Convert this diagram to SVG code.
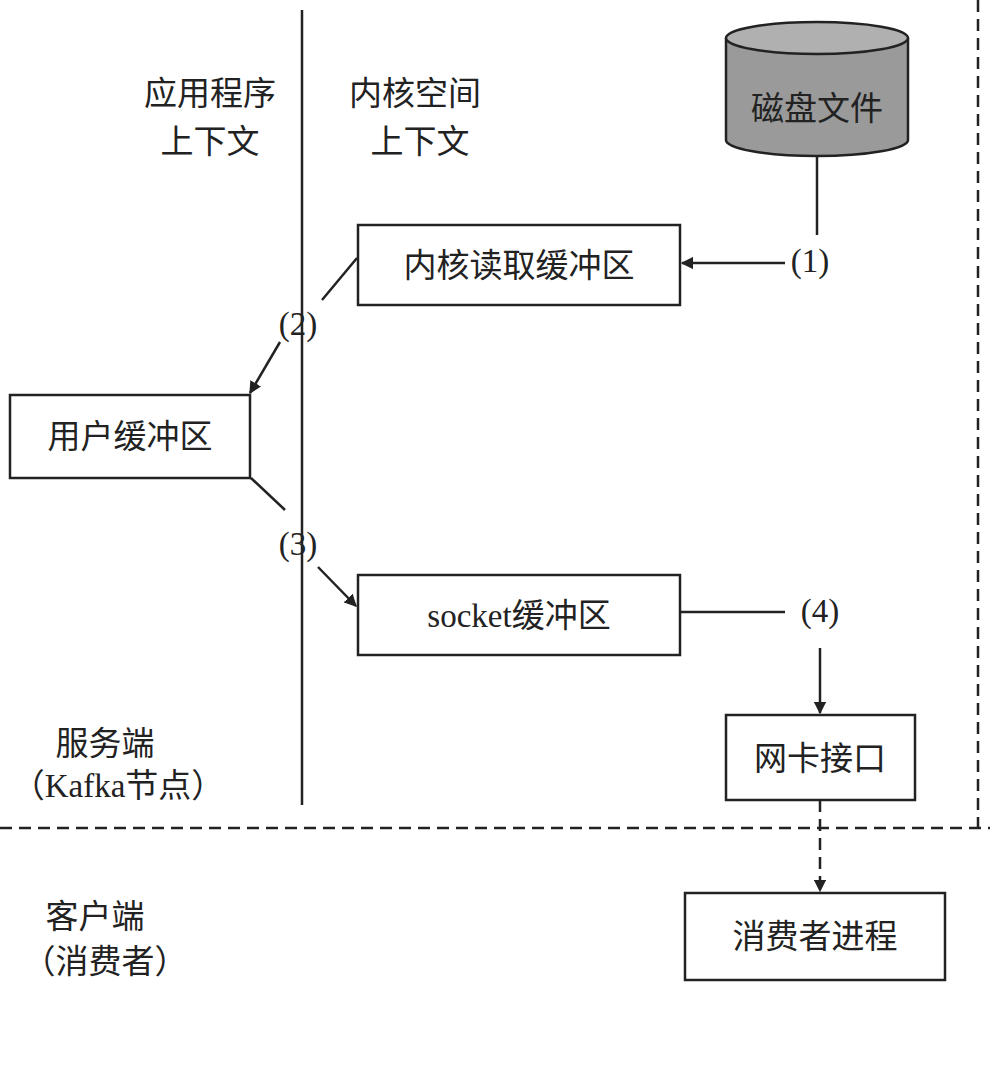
<svg xmlns="http://www.w3.org/2000/svg" width="1000" height="1065" viewBox="0 0 1000 1065">
<defs>
<style>
text{font-family:"Liberation Serif","Noto Sans CJK SC",serif;font-size:33px;fill:#222;text-anchor:middle}
.b{fill:#fff;stroke:#222;stroke-width:2.5}
.l{stroke:#222;stroke-width:2.5;fill:none}
.d{stroke:#222;stroke-width:2.5;fill:none;stroke-dasharray:12 7}
</style>
<marker id="a" viewBox="0 0 10 10" refX="9" refY="5" markerWidth="5" markerHeight="5" orient="auto"><path d="M0,0L10,5L0,10z" fill="#222"/></marker>
</defs>
<rect width="1000" height="1065" fill="#fff"/>
<g id="labels">
<text x="210" y="105">应用程序</text><text x="210" y="153">上下文</text>
<text x="415" y="105">内核空间</text><text x="420" y="153">上下文</text>
<text x="105" y="755">服务端</text><text x="118" y="797">（Kafka节点）</text>
<text x="95" y="928">客户端</text><text x="105" y="973">（消费者）</text>
</g>
<g id="disk">
<path d="M726,38 V140 A91,16 0 0 0 908,140 V38" fill="#9a9a9a" stroke="#222" stroke-width="2.5"/>
<ellipse cx="817" cy="38" rx="91" ry="16" fill="#b0b0b0" stroke="#222" stroke-width="2.5"/>
<text x="817" y="120">磁盘文件</text>
</g>
<g id="kread"><rect class="b" x="358" y="225" width="322" height="80"/><text x="519" y="277">内核读取缓冲区</text></g>
<g id="user"><rect class="b" x="10" y="395" width="240" height="83"/><text x="130" y="448">用户缓冲区</text></g>
<g id="socket"><rect class="b" x="358" y="575" width="322" height="80"/><text x="519" y="627">socket缓冲区</text></g>
<g id="nic"><rect class="b" x="726" y="715" width="189" height="85"/><text x="820" y="770">网卡接口</text></g>
<g id="consumer"><rect class="b" x="685" y="893" width="260" height="87"/><text x="815" y="948">消费者进程</text></g>
<g id="connectors">
<line class="l" x1="302" y1="10" x2="302" y2="805"/>
<line class="d" x1="978" y1="0" x2="978" y2="828"/>
<line class="d" x1="0" y1="828" x2="990" y2="828"/>
<line class="l" x1="817" y1="156" x2="817" y2="235"/>
<line class="l" x1="785" y1="263" x2="682" y2="263" marker-end="url(#a)"/>
<line class="l" x1="357" y1="258" x2="322" y2="300"/>
<line class="l" x1="280" y1="342" x2="250" y2="393" marker-end="url(#a)"/>
<line class="l" x1="251" y1="478" x2="285" y2="510"/>
<line class="l" x1="318" y1="567" x2="356" y2="606" marker-end="url(#a)"/>
<line class="l" x1="680" y1="612" x2="785" y2="612"/>
<line class="l" x1="820" y1="648" x2="820" y2="713" marker-end="url(#a)"/>
<line class="d" x1="820" y1="800" x2="820" y2="891" marker-end="url(#a)"/>
<text x="810" y="272">(1)</text>
<text x="298" y="335">(2)</text>
<text x="298" y="555">(3)</text>
<text x="820" y="622">(4)</text>
</g>
</svg>
